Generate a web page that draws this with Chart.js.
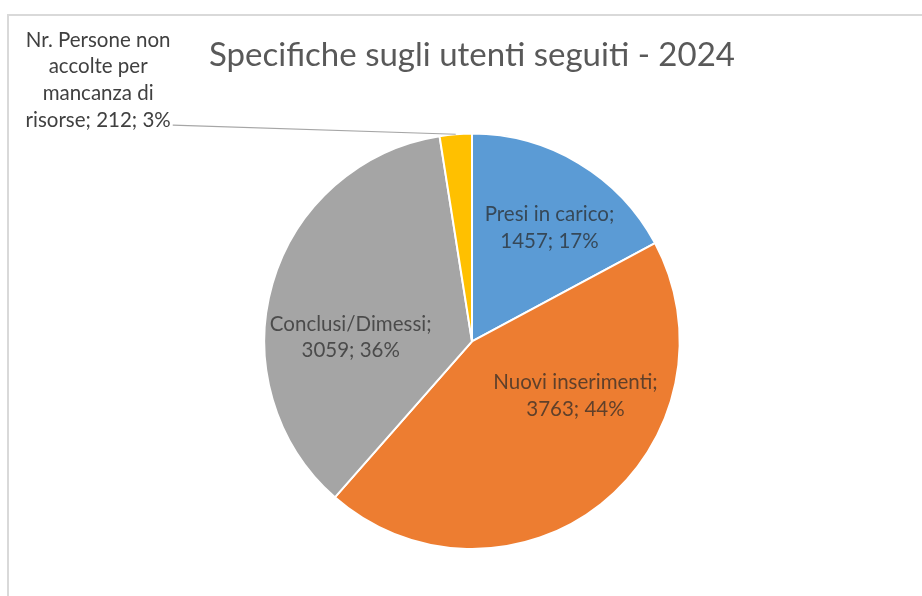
<!DOCTYPE html>
<html>
<head>
<meta charset="utf-8">
<script src="https://cdn.jsdelivr.net/npm/chart.js@4"></script>
<style>
html,body{margin:0;padding:0;background:#fff;}
#wrap{width:922px;height:596px;position:relative;}
</style>
</head>
<body>
<div id="wrap"><canvas id="c" width="922" height="596"></canvas></div>
<script>
const titleText = "Specifiche sugli utenti seguiti - 2024";
const categories = ["Presi in carico", "Nuovi inserimenti", "Conclusi/Dimessi", "Nr. Persone non accolte per mancanza di risorse"];
const values = [1457, 3763, 3059, 212];
const percentLabels = ["17%", "44%", "36%", "3%"];
const colors = ["#5b9bd5", "#ed7d31", "#a5a5a5", "#ffc000"];
// label line breaks (text layout only)
const labelLines = [
  ["Presi in carico;", null],
  ["Nuovi inserimenti;", null],
  ["Conclusi/Dimessi;", null],
  ["Nr. Persone non", "accolte per", "mancanza di", "risorse; {v}; {p}"]
];
// label anchor offsets in units of the pie radius (layout only)
const labelOffsets = [[0.373, -0.545], [0.498, 0.263], [-0.584, -0.019], [-1.80, -1.258]];
const outsideLabel = [false, false, false, true];

const FONT = "Lato, 'Open Sans', sans-serif";

const framePlugin = {
  id: 'frame',
  beforeDraw(chart) {
    const ctx = chart.ctx;
    ctx.save();
    ctx.strokeStyle = '#d9d9d9';
    ctx.lineWidth = 2;
    ctx.beginPath();
    ctx.moveTo(8, 600);
    ctx.lineTo(8, 15);
    ctx.lineTo(930, 15);
    ctx.stroke();
    ctx.restore();
  }
};

const labelPlugin = {
  id: 'sliceLabels',
  afterDatasetsDraw(chart) {
    const ctx = chart.ctx;
    const meta = chart.getDatasetMeta(0);
    const data = chart.data.datasets[0].data;
    ctx.save();
    ctx.font = "20.5px " + FONT;
    ctx.textAlign = 'center';
    ctx.textBaseline = 'middle';
    const lh = 26.7;
    meta.data.forEach((arc, i) => {
      const p = arc.getProps(['x', 'y', 'outerRadius', 'startAngle', 'endAngle'], true);
      const pct = percentLabels[i];
      let lines;
      if (labelLines[i][1] === null) {
        lines = [labelLines[i][0], data[i] + '; ' + pct];
      } else {
        lines = labelLines[i].map(s => s.replace('{v}', data[i]).replace('{p}', pct));
      }
      const cx = p.x + labelOffsets[i][0] * p.outerRadius;
      const cy = p.y + labelOffsets[i][1] * p.outerRadius;
      const y0 = cy - (lines.length - 1) * lh / 2;
      if (outsideLabel[i]) {
        const mid = (p.startAngle + p.endAngle) / 2;
        const ex = p.x + Math.cos(mid) * p.outerRadius;
        const ey = p.y + Math.sin(mid) * p.outerRadius;
        const lastW = ctx.measureText(lines[lines.length - 1]).width;
        const sx = cx + lastW / 2 + 2;
        const sy = y0 + (lines.length - 1) * lh + 5;
        ctx.strokeStyle = '#a6a6a6';
        ctx.lineWidth = 1.2;
        ctx.beginPath();
        ctx.moveTo(sx, sy);
        ctx.lineTo(ex, ey);
        ctx.stroke();
        ctx.fillStyle = '#404040';
      } else {
        ctx.fillStyle = 'rgba(40,40,40,0.72)';
      }
      lines.forEach((ln, k) => ctx.fillText(ln, cx, y0 + k * lh));
    });
    ctx.restore();
  }
};

new Chart(document.getElementById('c'), {
  type: 'pie',
  data: {
    labels: categories,
    datasets: [{
      data: values,
      backgroundColor: colors,
      borderColor: '#ffffff',
      borderWidth: 2
    }]
  },
  options: {
    responsive: false,
    animation: false,
    layout: { padding: { top: 0, bottom: 46, left: 42, right: 20 } },
    plugins: {
      legend: { display: false },
      tooltip: { enabled: false },
      title: {
        display: true,
        text: titleText,
        color: '#595959',
        font: { family: FONT, size: 33, weight: 'normal' },
        padding: { top: 36, bottom: 57 }
      }
    }
  },
  plugins: [framePlugin, labelPlugin]
});
</script>
</body>
</html>
